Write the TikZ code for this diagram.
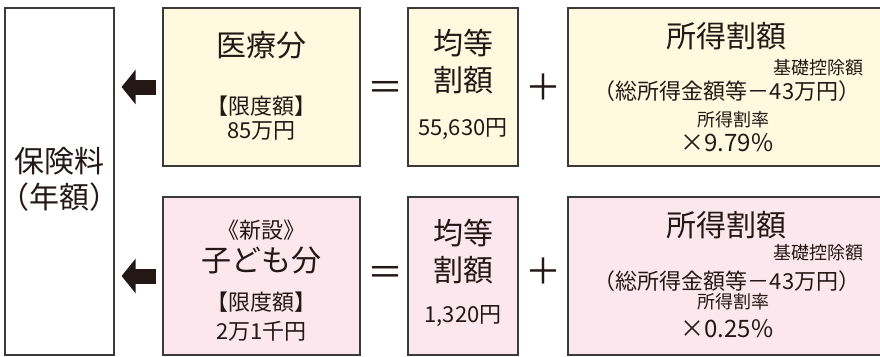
\documentclass[tikz,border=0pt]{standalone}
\usepackage{fontspec}
\usepackage{tikz}
\usetikzlibrary{calc,arrows.meta}
\newfontfamily\jp{Noto Sans CJK JP}
\definecolor{ink}{HTML}{231815}
\definecolor{boxline}{HTML}{3A3A3A}
\definecolor{medfill}{HTML}{FFFADF}
\definecolor{kidfill}{HTML}{FCE7EF}
\tikzset{
  box/.style={draw=boxline, line width=1.2pt, inner sep=0pt, minimum height=158pt},
  medbox/.style={box, fill=medfill},
  kidbox/.style={box, fill=kidfill},
  title/.style={text=ink, inner sep=0pt, font=\jp\fontsize{30}{34}\selectfont},
  sub/.style={text=ink, inner sep=0pt, font=\jp\fontsize{22}{25}\selectfont},
  tiny/.style={text=ink, inner sep=0pt, font=\jp\fontsize{18}{20}\selectfont},
  rate/.style={text=ink, inner sep=0pt, font=\jp\fontsize{24}{27}\selectfont},
  op/.style={text=ink, inner sep=0pt, font=\jp\fontsize{36}{36}\selectfont},
  bigarrow/.style={draw=ink, line width=15pt, -{Triangle[length=14pt,width=34pt]}},
}
\begin{document}
\begin{tikzpicture}[x=1pt,y=-1pt]
  \useasboundingbox (0,0) rectangle (880,356);

  % total
  \node[box, fill=white, minimum width=109pt, minimum height=347pt] (total) at (59.5,181.5) {};
  \node[title] (totA) at (59.5,161) {保険料};
  \node[title] (totB) at (59.5,197) {（年額）};

  % medical row
  \node[medbox, minimum width=197pt] (med) at (261.5,87) {};
  \node[medbox, minimum width=110pt] (medflat) at (463,87) {};
  \node[medbox, minimum width=316pt] (medinc) at (726,87) {};

  \node[title] (medT) at (261.5,45) {医療分};
  \node[sub] (medL) at (261.5,106) {【限度額】};
  \node[sub] (medV) at (261.5,131) {85万円};

  \node[title] (medF1) at (463,43) {均等};
  \node[title] (medF2) at (463,80) {割額};
  \node[sub] (medFV) at (463,129) {55,630円};

  \node[title] (medI) at (726,36) {所得割額};
  \node[tiny, anchor=east] (medK) at (864,68) {基礎控除額};
  \node[sub] (medS) at (727,91) {（総所得金額等－43万円）};
  \node[tiny] (medR) at (733,120) {所得割率};
  \node[rate] (medP) at (727,143) {×9.79\%};

  \node[op] (medEq) at (385.5,91) {＝};
  \node[op] (medPl) at (543,87) {＋};

  % child row
  \node[kidbox, minimum width=197pt] (kid) at (261.5,276) {};
  \node[kidbox, minimum width=110pt] (kidflat) at (463,276) {};
  \node[kidbox, minimum width=316pt] (kidinc) at (726,276) {};

  \node[sub] (kidN) at (261.5,230) {《新設》};
  \node[title] (kidT) at (261.5,260) {子ども分};
  \node[sub] (kidL) at (261.5,302) {【限度額】};
  \node[sub] (kidV) at (261.5,331) {2万1千円};

  \node[title] (kidF1) at (463,233) {均等};
  \node[title] (kidF2) at (463,270) {割額};
  \node[sub] (kidFV) at (463,316) {1,320円};

  \node[title] (kidI) at (726,225) {所得割額};
  \node[tiny, anchor=east] (kidK) at (864,253) {基礎控除額};
  \node[sub] (kidS) at (727,281) {（総所得金額等－43万円）};
  \node[tiny] (kidR) at (733,302) {所得割率};
  \node[rate] (kidP) at (727,329) {×0.25\%};

  \node[op] (kidEq) at (385.5,276) {＝};
  \node[op] (kidPl) at (543,271) {＋};

  % arrows into the total
  \draw[bigarrow] ($(med.west)+(-6,0)$) -- ($(total.east |- med.west)+(7,0)$);
  \draw[bigarrow] ($(kid.west)+(-6,0)$) -- ($(total.east |- kid.west)+(7,0)$);
\end{tikzpicture}
\end{document}
